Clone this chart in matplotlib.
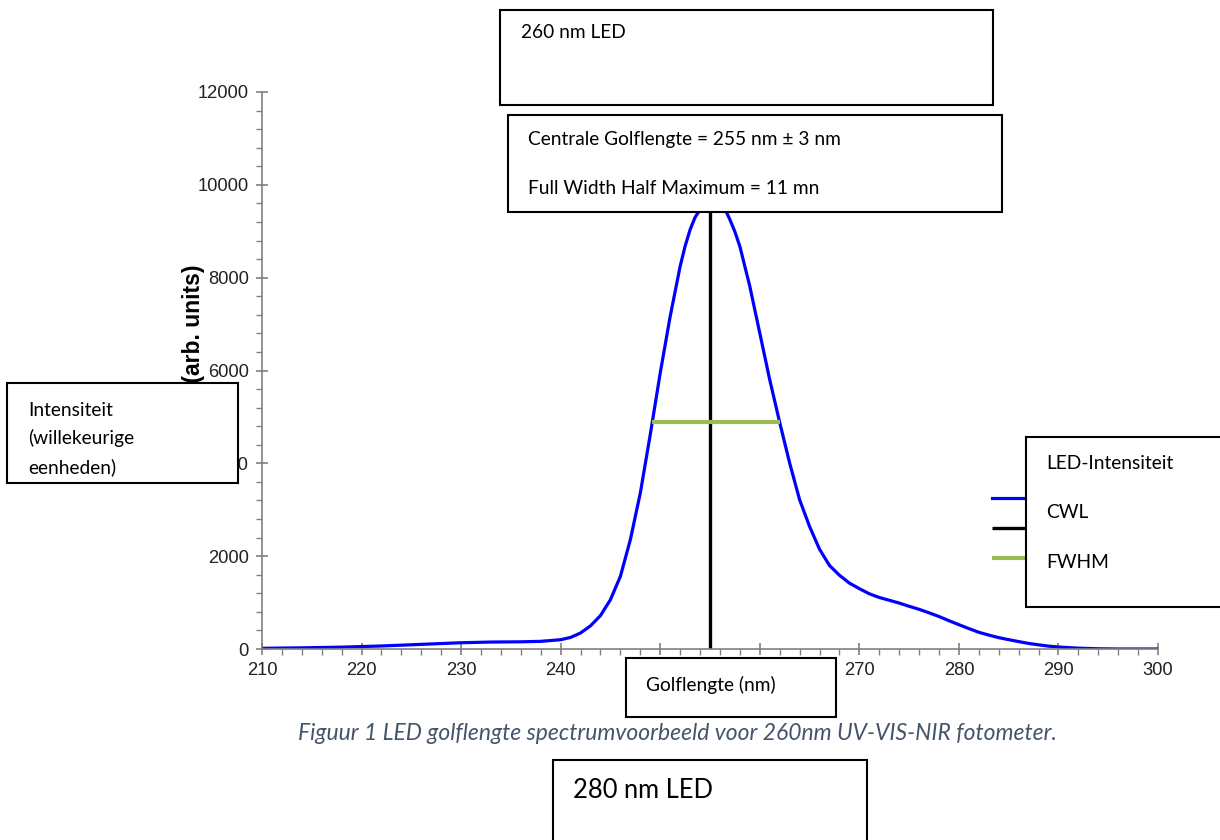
import matplotlib
matplotlib.use("Agg")
import matplotlib.pyplot as plt
from matplotlib.patches import Rectangle
from matplotlib.ticker import MultipleLocator

# spectrum (nm, arb. units)
wavelength = [210, 214, 218, 222, 226, 230, 233, 236, 238, 240, 241, 242, 243, 244,
              245, 246, 247, 248, 249, 250, 251, 252, 252.5, 253, 253.5, 254, 254.5,
              255, 255.5, 256, 256.5, 257, 257.5, 258,
              259, 260, 261, 262, 263, 264, 265, 266, 267, 268, 269, 270, 271, 272,
              273, 274, 275, 276, 277, 278, 279, 280, 281, 282, 283, 284, 285, 286,
              287, 288, 289, 290, 292, 294, 296, 300]
intensity = [15, 25, 40, 65, 100, 135, 150, 155, 165, 200, 250, 345, 500, 720,
             1063, 1565, 2355, 3360, 4620, 5945, 7166, 8243, 8680, 9033, 9300, 9463, 9620,
             9700, 9710, 9640, 9480, 9250, 8990, 8673,
             7812, 6807, 5801, 4882, 4006, 3217, 2640, 2150, 1800, 1590, 1420, 1300, 1190, 1110,
             1050, 990, 920, 855, 780, 700, 610, 524, 440, 360, 300, 245, 201, 160,
             120, 90, 62, 43, 18, 5, 0, 0]

cwl = 255
fwhm_left, fwhm_right = 249.2, 262.0
half_max = 4880

# 250 and 260 sit under the "Golflengte (nm)" box in the picture
xticks = [210, 220, 230, 240, 250, 260, 270, 280, 290, 300]
xtick_labels = ["210", "220", "230", "240", "", "", "270", "280", "290", "300"]

W, H = 1220, 840
fig = plt.figure(figsize=(W / 100, H / 100), dpi=100)
ax = fig.add_axes([262 / W, 1 - 649 / H, (1158 - 262) / W, (649 - 92) / H])

l1, = ax.plot(wavelength, intensity, color="#0000ff", lw=2.3, solid_joinstyle="round")
l2 = ax.vlines(cwl, 0, max(intensity), color="black", lw=2.4)
l3 = ax.hlines(half_max, fwhm_left, fwhm_right, color="#9bbb59", lw=3)

ax.set_xlim(210, 300)
ax.set_ylim(0, 12000)
ax.set_xticks(xticks, labels=xtick_labels)
ax.xaxis.set_minor_locator(MultipleLocator(2))
ax.yaxis.set_major_locator(MultipleLocator(2000))
ax.yaxis.set_minor_locator(MultipleLocator(400))
for s in ["top", "right"]:
    ax.spines[s].set_visible(False)
for s in ["left", "bottom"]:
    ax.spines[s].set_color("#808080")
    ax.spines[s].set_linewidth(1.2)
ax.tick_params(which="major", direction="inout", length=9, width=1.2, color="#808080",
               labelsize=13.2, labelcolor="#222222", pad=5, labelfontfamily="Liberation Sans")
ax.tick_params(which="minor", direction="out", length=4, width=1, color="#808080")
# the original axis title sits half under the Dutch text box
ax.set_ylabel("Intensity (arb. units)", fontsize=16.5, fontweight="bold", family="Liberation Sans")
ax.yaxis.set_label_coords(-0.064, 0.495)

# legend stubs only, their labels are covered by the box on the right
ax.legend([l1, l2, l3], ["", "", ""], loc="upper left", frameon=False,
          bbox_to_anchor=(992 / W, 1 - 490 / H), bbox_transform=fig.transFigure,
          borderpad=0, borderaxespad=0, handlelength=3, fontsize=12, labelspacing=0.72)


def box(x0, y0, x1, y1):
    fig.patches.append(Rectangle((x0 / W, 1 - y1 / H), (x1 - x0) / W, (y1 - y0) / H,
                                 transform=fig.transFigure, facecolor="white",
                                 edgecolor="black", lw=1.5))


def label(x, y, s, size=13.8, **kw):
    fig.text(x / W, 1 - y / H, s, ha="left", va="center", family="Lato", fontsize=size, **kw)


box(500, 10, 993, 105)
label(521, 33, "260 nm LED")

box(508, 115, 1002, 212)
label(528, 140, "Centrale Golflengte = 255 nm ± 3 nm")
label(528, 188, "Full Width Half Maximum = 11 mn")

box(7, 383, 238, 483)
label(28, 410, "Intensiteit")
label(28, 438, "(willekeurige")
label(28, 467, "eenheden)")

box(1026, 437, 1230, 607)
label(1046, 463, "LED-Intensiteit")
label(1046, 512, "CWL")
label(1046, 562, "FWHM")

box(626, 658, 836, 717)
label(646, 685, "Golflengte (nm)")

fig.text(677 / W, 1 - 733 / H,
         "Figuur 1 LED golflengte spectrumvoorbeeld voor 260nm UV-VIS-NIR fotometer.",
         ha="center", va="center", family="Lato", style="italic", fontsize=16.5, color="#44546a")

box(553, 760, 867, 850)
label(573, 790, "280 nm LED", size=18.4)

fig.savefig("out.png", dpi=100, facecolor="white")
